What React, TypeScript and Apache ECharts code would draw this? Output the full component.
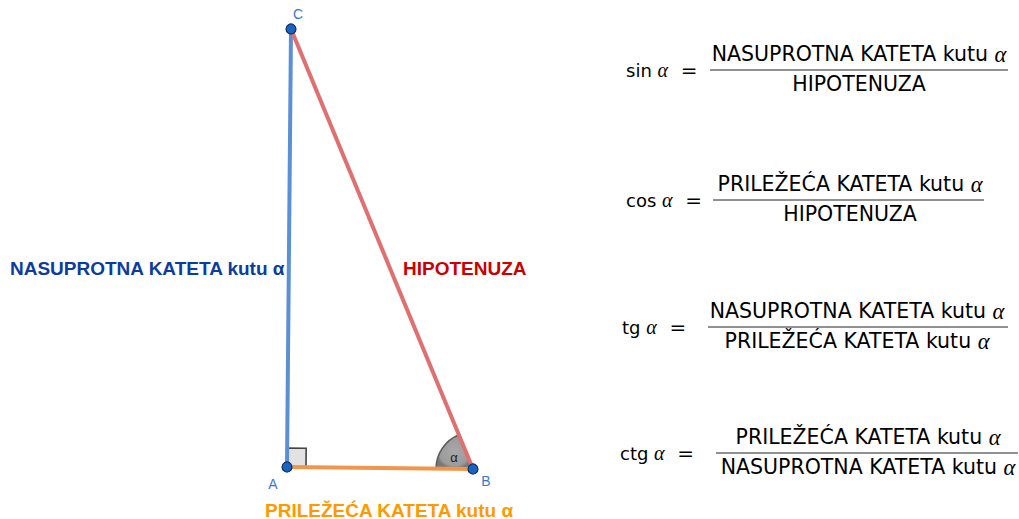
import React, { useEffect, useRef } from "react";
import * as echarts from "echarts";

// Triangle vertices (diagram units, y grows downward)
const pointNames = ["A", "B", "C"];
const pointX = [287, 473, 291];
const pointY = [467, 469, 29];

// Side labels
const sideLabels = ["NASUPROTNA KATETA kutu α", "HIPOTENUZA", "PRILEŽEĆA KATETA kutu α"];

// Trigonometric ratios
const funcNames = ["sin", "cos", "tg", "ctg"];
const numerators = [
  "NASUPROTNA KATETA kutu ",
  "PRILEŽEĆA KATETA kutu ",
  "NASUPROTNA KATETA kutu ",
  "PRILEŽEĆA KATETA kutu ",
];
const denominators = [
  "HIPOTENUZA",
  "HIPOTENUZA",
  "PRILEŽEĆA KATETA kutu ",
  "NASUPROTNA KATETA kutu ",
];
const denomHasAlpha = [false, false, true, true];

const SANS = "'Liberation Sans', Arial, sans-serif";
const MATH_SANS = "'DejaVu Sans', 'Liberation Sans', sans-serif";
const SERIF = "'Liberation Serif', 'DejaVu Serif', serif";

export default function App() {
  const ref = useRef<HTMLDivElement>(null);

  useEffect(() => {
    if (!ref.current) return;
    const chart = echarts.init(ref.current, undefined, { renderer: "svg" });

    const P = (i: number) => [pointX[i], pointY[i]];
    const A = P(0), B = P(1), C = P(2);

    const rowY = [70, 200, 327, 453];
    const labelX = [626, 626, 622, 620];
    const fracCX = [859, 850, 857, 868];
    const lineL = [710, 713, 708, 716];
    const lineR = [1008, 984, 1008, 1018];

    const rich = (size: number, color: string) => ({
      t: { fontFamily: MATH_SANS, fontSize: size, color },
      a: { fontFamily: SERIF, fontStyle: "italic", fontSize: size + 2, color },
      e: { fontFamily: MATH_SANS, fontSize: size + 2, color },
    });

    const graphics: any[] = [];
    funcNames.forEach((f, i) => {
      graphics.push({
        type: "text",
        x: labelX[i],
        y: rowY[i],
        style: {
          text: `{t|${f} }{a|α}{e|  =}`,
          rich: rich(18, "#111"),
          align: "left",
          verticalAlign: "middle",
        },
      });
      graphics.push({
        type: "text",
        x: fracCX[i],
        y: rowY[i] - 16,
        style: {
          text: `{t|${numerators[i]}}{a|α}`,
          rich: rich(20.5, "#111"),
          align: "center",
          verticalAlign: "middle",
        },
      });
      graphics.push({
        type: "text",
        x: fracCX[i],
        y: rowY[i] + 14,
        style: {
          text: denomHasAlpha[i] ? `{t|${denominators[i]}}{a|α}` : `{t|${denominators[i]}}`,
          rich: rich(20.5, "#111"),
          align: "center",
          verticalAlign: "middle",
        },
      });
      graphics.push({
        type: "line",
        shape: { x1: lineL[i], y1: rowY[i], x2: lineR[i], y2: rowY[i] },
        style: { stroke: "#222", lineWidth: 1 },
      });
    });

    graphics.push(
      {
        type: "text",
        x: 10,
        y: 268,
        style: {
          text: sideLabels[0],
          font: `bold 19px ${SANS}`,
          fill: "#0c3c9e",
          align: "left",
          verticalAlign: "middle",
        },
      },
      {
        type: "text",
        x: 403,
        y: 268,
        style: {
          text: sideLabels[1],
          font: `bold 19px ${SANS}`,
          fill: "#cc0000",
          align: "left",
          verticalAlign: "middle",
        },
      },
      {
        type: "text",
        x: 265,
        y: 510,
        style: {
          text: sideLabels[2],
          font: `bold 19px ${SANS}`,
          fill: "#ff9900",
          align: "left",
          verticalAlign: "middle",
        },
      }
    );

    const labelOffsets = [
      [-14, 17],
      [13, 12],
      [7, -15],
    ];

    chart.setOption({
      animation: false,
      backgroundColor: "#ffffff",
      grid: { left: 0, right: 0, top: 0, bottom: 0 },
      xAxis: { type: "value", min: 0, max: 1019, show: false },
      yAxis: { type: "value", min: 0, max: 519, inverse: true, show: false },
      series: [
        {
          type: "custom",
          renderItem: (_p: any, api: any) => {
            const a = api.coord(A), b = api.coord(B), c = api.coord(C);
            const s = 19;
            const ux = b[0] - a[0], uy = b[1] - a[1];
            const ul = Math.hypot(ux, uy);
            const vx = c[0] - a[0], vy = c[1] - a[1];
            const vl = Math.hypot(vx, vy);
            const u = [(ux / ul) * s, (uy / ul) * s];
            const v = [(vx / vl) * s, (vy / vl) * s];
            const sq = [
              [a[0], a[1]],
              [a[0] + u[0], a[1] + u[1]],
              [a[0] + u[0] + v[0], a[1] + u[1] + v[1]],
              [a[0] + v[0], a[1] + v[1]],
            ];
            const st = Math.atan2(a[1] - b[1], a[0] - b[0]);
            let en = Math.atan2(c[1] - b[1], c[0] - b[0]);
            if (en < st) en += Math.PI * 2;
            const mid = (st + en) / 2;
            const r = 37;
            return {
              type: "group",
              children: [
                {
                  type: "polygon",
                  shape: { points: sq },
                  style: { fill: "#e2e2e2", stroke: "#444", lineWidth: 1.6 },
                },
                {
                  type: "sector",
                  shape: { cx: b[0], cy: b[1], r, r0: 0, startAngle: st, endAngle: en, clockwise: true },
                  style: {
                    fill: {
                      type: "radial",
                      x: 0.5,
                      y: 0.5,
                      r: 0.5,
                      colorStops: [
                        { offset: 0, color: "#a8a8a8" },
                        { offset: 0.8, color: "#9c9c9c" },
                        { offset: 1, color: "#777777" },
                      ],
                      global: false,
                    },
                    stroke: "#5e5e5e",
                    lineWidth: 1.5,
                  },
                },
                {
                  type: "text",
                  x: b[0] + Math.cos(mid) * 23,
                  y: b[1] + Math.sin(mid) * 23 + 1,
                  style: {
                    text: "α",
                    font: `13px ${SANS}`,
                    fill: "#222",
                    align: "center",
                    verticalAlign: "middle",
                  },
                },
              ],
            };
          },
          data: [[B[0], B[1]]],
          z: 1,
        },
        {
          type: "line",
          data: [A, C],
          symbol: "none",
          lineStyle: { color: "#5b8fd6", width: 4 },
          z: 2,
        },
        {
          type: "line",
          data: [C, B],
          symbol: "none",
          lineStyle: { color: "#e07070", width: 4 },
          z: 2,
        },
        {
          type: "line",
          data: [A, B],
          symbol: "none",
          lineStyle: { color: "#f0964a", width: 4 },
          z: 2,
        },
        {
          type: "scatter",
          symbolSize: 10,
          itemStyle: { color: "#1a63c4", borderColor: "#0f2f66", borderWidth: 1.2, opacity: 1 },
          data: pointNames.map((n, i) => ({
            name: n,
            value: [pointX[i], pointY[i]],
            label: {
              show: true,
              formatter: n,
              position: "inside",
              offset: labelOffsets[i],
              color: "#3a78d4",
              fontSize: 14,
              fontFamily: SANS,
            },
          })),
          z: 5,
        },
      ],
      graphic: graphics,
    });

    return () => chart.dispose();
  }, []);

  return (
    <div
      ref={ref}
      style={{ position: "fixed", left: 0, top: 0, width: 1019, height: 519, background: "#fff" }}
    />
  );
}
